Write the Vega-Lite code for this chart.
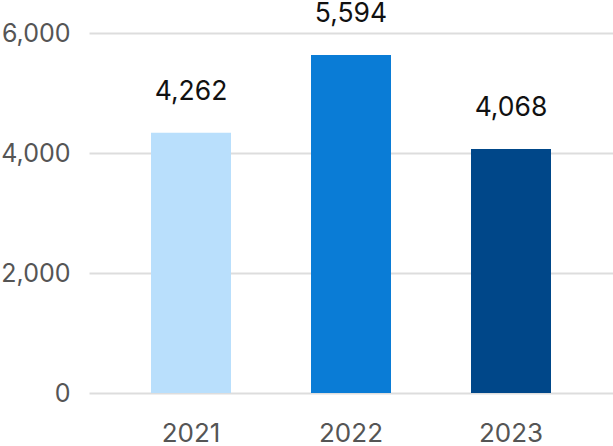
{
  "$schema": "https://vega.github.io/schema/vega-lite/v6.json",
  "width": 524,
  "height": 360,
  "autosize": {"type": "none"},
  "padding": {"left": 89, "top": 33, "right": 0, "bottom": 53},
  "background": "white",
  "config": {"view": {"stroke": null}, "font": "Inter"},
  "data": {
    "values": [
      {"year": "2021", "value": 4338, "label": 4262},
      {"year": "2022", "value": 5633, "label": 5594},
      {"year": "2023", "value": 4067, "label": 4068}
    ]
  },
  "encoding": {
    "x": {
      "field": "year",
      "type": "nominal",
      "scale": {"paddingInner": 0.5, "paddingOuter": 0.3875, "align": 0.5},
      "axis": {
        "title": null,
        "domain": false,
        "ticks": false,
        "labelAngle": 0,
        "labelFont": "Inter",
        "labelFontSize": 26,
        "labelColor": "#555555",
        "labelPadding": 27
      }
    }
  },
  "layer": [
    {
      "mark": {"type": "bar"},
      "encoding": {
        "y": {
          "field": "value",
          "type": "quantitative",
          "scale": {"domain": [0, 6000], "nice": false},
          "axis": {
            "title": null,
            "values": [0, 2000, 4000, 6000],
            "format": ",.0f",
            "domain": false,
            "ticks": false,
            "gridColor": "#dddddd",
            "gridWidth": 2,
            "labelFont": "Inter",
            "labelFontSize": 25,
            "labelColor": "#555555",
            "labelPadding": 19
          }
        },
        "color": {
          "field": "year",
          "type": "nominal",
          "scale": {"domain": ["2021", "2022", "2023"], "range": ["#b9dffc", "#0a7cd6", "#004789"]},
          "legend": null
        }
      }
    },
    {
      "mark": {"type": "text", "dy": -33, "baseline": "alphabetic", "fontSize": 26.5, "font": "Inter", "color": "#111111"},
      "encoding": {
        "y": {"field": "value", "type": "quantitative"},
        "text": {"field": "label", "type": "quantitative", "format": ",.0f"}
      }
    }
  ]
}
